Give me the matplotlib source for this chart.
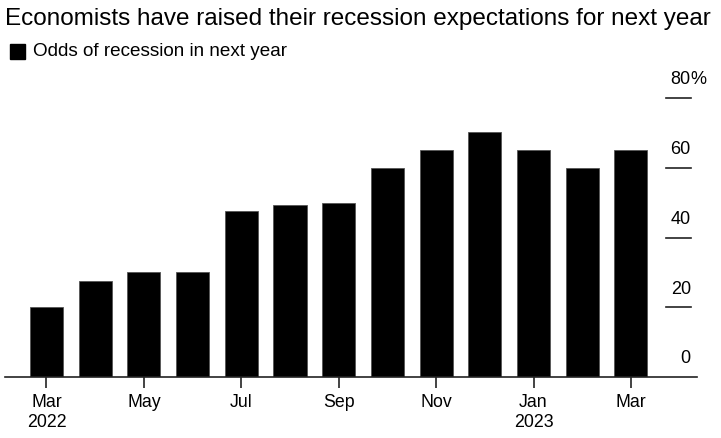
import numpy as np
import matplotlib.pyplot as plt
from matplotlib.patches import Rectangle

plt.rcParams['font.family'] = ['Liberation Sans', 'DejaVu Sans']

months = ['Mar', 'Apr', 'May', 'Jun', 'Jul', 'Aug', 'Sep',
          'Oct', 'Nov', 'Dec', 'Jan', 'Feb', 'Mar']
odds = [20, 27.4, 30, 30, 47.6, 49.2, 50, 60, 65, 70.3, 65, 60, 65]
tick_labels = ['Mar\n2022', 'May', 'Jul', 'Sep', 'Nov', 'Jan\n2023', 'Mar']
y_ticks = [0, 20, 40, 60, 80]

W, H = 721, 438
fig = plt.figure(figsize=(W / 100, H / 100), dpi=100)
ax = fig.add_axes([5 / W, (H - 377) / H, 692 / W, (377 - 98) / H])

x = np.arange(len(months))
ax.bar(x, odds, width=0.68, color='black', edgecolor='#555555', linewidth=0.6)

# month positions: Mar 2022 at px 46.5, step 48.7
ax.set_xlim((5 - 46.5) / 48.7, (697 - 46.5) / 48.7)
ax.set_ylim(0, 80)

for s in ['top', 'right', 'left']:
    ax.spines[s].set_visible(False)
ax.spines['bottom'].set_linewidth(1.2)
ax.spines['bottom'].set_color('#222222')

ax.set_xticks(x[::2])
ax.set_xticklabels(tick_labels, fontsize=12.8, linespacing=1.25)
ax.tick_params(axis='x', length=8, width=1.2, color='#222222', pad=4)
ax.set_yticks([])

# right side value guides
tr = ax.get_yaxis_transform()
for v in y_ticks:
    if v > 0:
        ax.plot([0.955, 0.991], [v, v], transform=tr, color='#222222',
                lw=1.2, clip_on=False)
    ax.text(0.991, v + 5.2, str(v), transform=tr, ha='right', va='center',
            fontsize=13, clip_on=False)
ax.text(0.991, 85.2, '%', transform=tr, ha='left', va='center',
        fontsize=13, clip_on=False)

fig.text(5 / W, 1 - 19 / H, 'Economists have raised their recession expectations for next year',
         fontsize=17.45, ha='left', va='center')
fig.patches.append(Rectangle((10 / W, 1 - 59 / H), 15 / W, 15 / H,
                             transform=fig.transFigure, color='black'))
fig.text(33 / W, 1 - 52 / H, 'Odds of recession in next year',
         fontsize=13.6, ha='left', va='center')

fig.savefig('out.png', dpi=100)
